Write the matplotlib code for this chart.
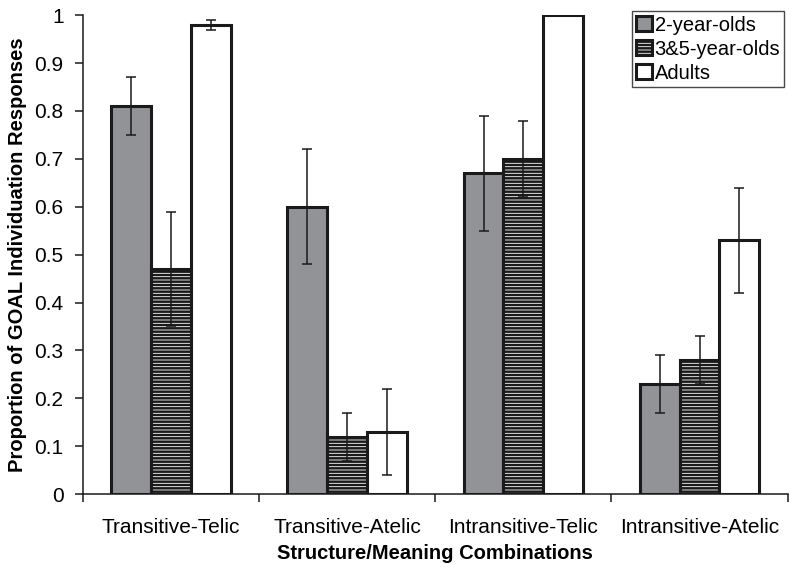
import numpy as np
import matplotlib.pyplot as plt
import matplotlib as mpl

plt.rcParams['font.family'] = ['Liberation Sans', 'DejaVu Sans']
mpl.rcParams['hatch.linewidth'] = 1.8

categories = ["Transitive-Telic", "Transitive-Atelic", "Intransitive-Telic", "Intransitive-Atelic"]
series = ["2-year-olds", "3&5-year-olds", "Adults"]
two_year = [0.81, 0.60, 0.67, 0.23]
two_year_err = [0.06, 0.12, 0.12, 0.06]
three_five = [0.47, 0.12, 0.70, 0.28]
three_five_err = [0.12, 0.05, 0.08, 0.05]
adults = [0.98, 0.13, 1.00, 0.53]
adults_err = [0.01, 0.09, 0.0, 0.11]

fig = plt.figure(figsize=(7.9, 5.64), dpi=100)
ax = fig.add_axes([0.105, 0.124, 0.892, 0.849])

x = np.arange(len(categories))
w = 0.226
styles = [
    dict(facecolor="#929396", hatch=None),
    dict(facecolor="white", hatch="-----"),
    dict(facecolor="white", hatch=None),
]
vals = [two_year, three_five, adults]
errs = [two_year_err, three_five_err, adults_err]
for i in range(3):
    ax.bar(x + (i - 1) * w, vals[i], w, label=series[i], edgecolor="#1a1a1a",
           linewidth=2.2, **styles[i])
    e = np.array(errs[i])
    mask = e > 0
    ax.errorbar((x + (i - 1) * w)[mask], np.array(vals[i])[mask], yerr=e[mask],
                fmt="none", ecolor="#1a1a1a", elinewidth=1.1, capsize=3.5, capthick=1.1)

ax.set_xlim(-0.5, 3.5)
ax.set_ylim(0, 1)
ax.set_yticks(np.arange(0, 1.01, 0.1))
ax.set_yticklabels(["0"] + [f"{v:.1f}" for v in np.arange(0.1, 0.95, 0.1)] + ["1"])
ax.set_xticks(x)
ax.set_xticklabels(categories)
ax.set_xticks(np.arange(-0.5, 3.6, 1), minor=True)
ax.tick_params(axis="x", which="major", length=0, pad=17, labelsize=15)
ax.tick_params(axis="x", which="minor", length=6, direction="out", width=1.1, color="#1a1a1a")
ax.tick_params(axis="y", length=6, direction="out", width=1.1, labelsize=15, color="#1a1a1a", pad=8)
for s in ["top", "right"]:
    ax.spines[s].set_visible(False)
for s in ["left", "bottom"]:
    ax.spines[s].set_linewidth(1.1)
    ax.spines[s].set_color("#1a1a1a")

ax.set_ylabel("Proportion of GOAL Individuation Responses", fontsize=14.5, fontweight="bold", labelpad=5)
ax.set_xlabel("Structure/Meaning Combinations", fontsize=14.5, fontweight="bold", labelpad=5)

leg = ax.legend(loc="upper right", bbox_to_anchor=(0.998, 1.012), fontsize=14.5, frameon=True,
                fancybox=False, edgecolor="#1a1a1a", handlelength=0.75, handleheight=0.75,
                handletextpad=0.15, borderpad=0.2, labelspacing=0.25, borderaxespad=0.1)
leg.get_frame().set_linewidth(1.0)

fig.savefig("out.png", dpi=100)
